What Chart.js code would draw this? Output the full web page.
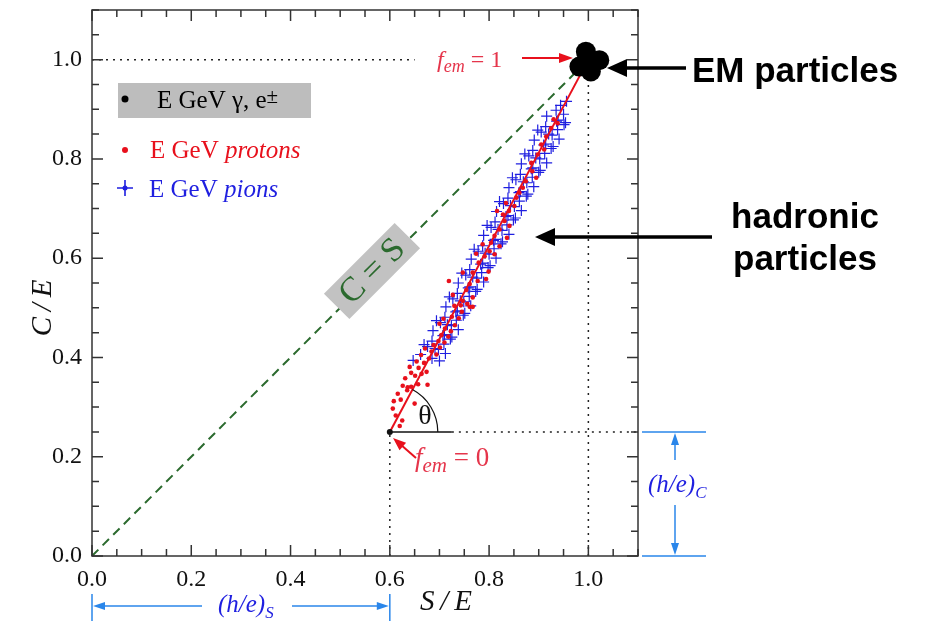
<!DOCTYPE html>
<html>
<head>
<meta charset="utf-8">
<script src="https://cdn.jsdelivr.net/npm/chart.js@4.4.1/dist/chart.umd.min.js"></script>
<style>
  html, body { margin: 0; padding: 0; background: #fff; }
  #wrap { width: 928px; height: 621px; }
</style>
</head>
<body>
<div id="wrap"><canvas id="c" width="928" height="621"></canvas></div>
<script>
// tick labels
const xTicks = [0.0, 0.2, 0.4, 0.6, 0.8, 1.0];
const yTicks = [0.0, 0.2, 0.4, 0.6, 0.8, 1.0];

// protons : S/E , C/E
const protonS = [0.606,0.625,0.612,0.608,0.650,0.616,0.622,0.636,0.676,0.635,0.626,0.643,0.657,0.631,0.651,0.643,0.664,0.674,0.658,0.640,
  0.669,0.654,0.663,0.679,0.684,0.694,0.671,0.688,0.701,0.698,0.710,0.704,0.718,0.723,0.711,0.731,0.739,0.725,0.745,0.743,
  0.767,0.756,0.730,0.761,0.747,0.767,0.727,0.754,0.761,0.777,0.719,0.794,0.747,0.767,0.799,0.779,0.791,0.774,0.801,0.811,
  0.787,0.804,0.821,0.811,0.836,0.821,0.841,0.831,0.816,0.840,0.851,0.834,0.828,0.855,0.861,0.868,0.874,0.887,0.895,0.885,
  0.898,0.911,0.905,0.915,0.925,0.938,0.930,0.708,0.700,0.620];
const protonC = [0.297,0.273,0.283,0.312,0.307,0.327,0.315,0.340,0.345,0.334,0.343,0.341,0.346,0.358,0.363,0.369,0.367,0.371,0.379,0.381,
  0.389,0.392,0.405,0.398,0.412,0.406,0.418,0.425,0.420,0.433,0.430,0.445,0.442,0.453,0.458,0.465,0.479,0.482,0.492,0.505,
  0.502,0.508,0.504,0.502,0.514,0.521,0.526,0.536,0.548,0.554,0.554,0.558,0.571,0.571,0.573,0.591,0.604,0.609,0.614,0.608,
  0.628,0.631,0.624,0.645,0.641,0.658,0.665,0.675,0.695,0.695,0.705,0.711,0.688,0.722,0.732,0.742,0.755,0.775,0.762,0.792,
  0.809,0.819,0.829,0.845,0.862,0.872,0.880,0.478,0.468,0.262];

// pions : S/E , C/E
const pionS = [0.647,
  0.662,0.685,0.700, 0.676,0.698,0.712, 0.669,0.691,0.709, 0.685,0.707,0.722, 0.687,0.710,0.725, 0.702,0.724,0.738,
  0.694,0.716,0.734, 0.711,0.733,0.748, 0.713,0.736,0.751, 0.727,0.749,0.763, 0.720,0.742,0.760, 0.736,0.758,0.773,
  0.738,0.761,0.776, 0.753,0.775,0.789, 0.745,0.767,0.785, 0.761,0.783,0.798, 0.764,0.787,0.802, 0.778,0.800,0.814,
  0.770,0.792,0.810, 0.787,0.809,0.824, 0.789,0.812,0.827, 0.804,0.826,0.840, 0.796,0.818,0.836, 0.812,0.834,0.849,
  0.815,0.838,0.853, 0.829,0.851,0.865, 0.821,0.843,0.861, 0.838,0.860,0.875, 0.840,0.863,0.878, 0.854,0.876,0.890,
  0.847,0.869,0.887, 0.863,0.885,0.900, 0.865,0.888,0.903, 0.880,0.902,0.916, 0.872,0.894,0.912, 0.888,0.910,0.925,
  0.891,0.914,0.929, 0.905,0.927,0.941, 0.898,0.920,0.938, 0.914,0.936,0.951, 0.916,0.939,0.954, 0.935,0.950, 0.944,0.956];
const pionC = [0.394,
  0.406,0.398,0.393, 0.422,0.416,0.408, 0.426,0.418,0.427, 0.433,0.444,0.437, 0.454,0.446,0.441, 0.470,0.464,0.456,
  0.474,0.466,0.475, 0.481,0.492,0.485, 0.502,0.494,0.489, 0.518,0.512,0.504, 0.522,0.514,0.523, 0.529,0.540,0.533,
  0.550,0.542,0.537, 0.566,0.560,0.552, 0.570,0.562,0.571, 0.577,0.588,0.581, 0.598,0.590,0.585, 0.614,0.608,0.600,
  0.618,0.610,0.619, 0.625,0.636,0.629, 0.646,0.638,0.633, 0.662,0.656,0.648, 0.666,0.658,0.667, 0.673,0.684,0.677,
  0.694,0.686,0.681, 0.710,0.704,0.696, 0.714,0.706,0.715, 0.721,0.732,0.725, 0.742,0.734,0.729, 0.758,0.752,0.744,
  0.762,0.754,0.763, 0.769,0.780,0.773, 0.790,0.782,0.777, 0.806,0.800,0.792, 0.810,0.802,0.811, 0.817,0.828,0.821,
  0.838,0.830,0.825, 0.854,0.848,0.840, 0.858,0.850,0.859, 0.865,0.876,0.869, 0.886,0.878,0.873, 0.898,0.890, 0.908,0.916];

// EM particles (gamma, e+-)
const emS = [0.995, 1.022, 0.982, 1.005, 1.000];
const emC = [1.016, 0.999, 0.986, 0.976, 1.000];

// f_em = 0 and f_em = 1 end points
const fem0 = [0.6, 0.25];
const fem1 = [1.0, 1.0];

const pts = (xs, ys) => xs.map((v, i) => ({ x: v, y: ys[i] }));

const RED = '#e8101c', BLUE = '#1f1fe0', LBLUE = '#2a86ea', GREEN = '#2b6a2e', PINK = '#e5354b';
const SERIF = '"Liberation Serif", "DejaVu Serif", serif';
const SANS = '"Liberation Sans", Arial, sans-serif';

function arrow(ctx, x1, y1, x2, y2, color, lw, hl, hw) {
  const a = Math.atan2(y2 - y1, x2 - x1);
  ctx.save();
  ctx.strokeStyle = color; ctx.fillStyle = color; ctx.lineWidth = lw; ctx.setLineDash([]);
  ctx.beginPath();
  ctx.moveTo(x1, y1);
  ctx.lineTo(x2 - hl * Math.cos(a) * 0.8, y2 - hl * Math.sin(a) * 0.8);
  ctx.stroke();
  ctx.beginPath();
  ctx.moveTo(x2, y2);
  ctx.lineTo(x2 - hl * Math.cos(a) + hw * Math.sin(a), y2 - hl * Math.sin(a) - hw * Math.cos(a));
  ctx.lineTo(x2 - hl * Math.cos(a) - hw * Math.sin(a), y2 - hl * Math.sin(a) + hw * Math.cos(a));
  ctx.closePath();
  ctx.fill();
  ctx.restore();
}

// draws a run of text pieces one after the other
function parts(ctx, x, y, list, color) {
  ctx.save();
  ctx.fillStyle = color; ctx.textAlign = 'left'; ctx.textBaseline = 'alphabetic';
  let cx = x;
  list.forEach(p => {
    ctx.font = p.f;
    ctx.fillText(p.t, cx, y + (p.dy || 0));
    cx += ctx.measureText(p.t).width;
  });
  ctx.restore();
}

const decor = {
  id: 'decor',
  afterDatasetsDraw(chart) {
    const ctx = chart.ctx, a = chart.chartArea;
    const xs = chart.scales.x, ys = chart.scales.y;
    const X = v => xs.getPixelForValue(v), Y = v => ys.getPixelForValue(v);

    ctx.save();
    // frame
    ctx.strokeStyle = '#333'; ctx.lineWidth = 1.5;
    ctx.strokeRect(a.left, a.top, a.right - a.left, a.bottom - a.top);
    // inward ticks every 0.05
    ctx.beginPath();
    for (let i = 0; i <= 22; i++) {
      const v = i * 0.05;
      const len = (i % 4 === 0) ? 11 : 7;
      const px = X(v), py = Y(v);
      ctx.moveTo(px, a.bottom); ctx.lineTo(px, a.bottom - len);
      ctx.moveTo(px, a.top); ctx.lineTo(px, a.top + len);
      ctx.moveTo(a.left, py); ctx.lineTo(a.left + len, py);
      ctx.moveTo(a.right, py); ctx.lineTo(a.right - len, py);
    }
    ctx.stroke();

    // theta arc
    const ox = X(fem0[0]), oy = Y(fem0[1]);
    const ang = Math.atan2(Y(fem1[1]) - oy, X(fem1[0]) - ox);
    ctx.lineWidth = 1.2; ctx.strokeStyle = '#111';
    ctx.beginPath(); ctx.arc(ox, oy, 48, ang, 0); ctx.stroke();
    ctx.fillStyle = '#111'; ctx.font = '28px ' + SERIF; ctx.textAlign = 'center';
    ctx.fillText('\u03b8', 425, 424);

    // C = S label
    ctx.save();
    ctx.translate(372, 271); ctx.rotate(-Math.PI / 4);
    ctx.fillStyle = '#c2c2c2'; ctx.fillRect(-50, -18, 100, 36);
    ctx.fillStyle = GREEN; ctx.font = '34px ' + SERIF; ctx.textAlign = 'center'; ctx.textBaseline = 'middle';
    ctx.fillText('C = S', 0, 1);
    ctx.restore();

    // legend
    ctx.fillStyle = '#bdbdbd'; ctx.fillRect(118, 83, 193, 35);
    ctx.fillStyle = '#000'; ctx.beginPath(); ctx.arc(125, 99, 3.5, 0, 2 * Math.PI); ctx.fill();
    parts(ctx, 157, 108, [{ t: 'E GeV \u03b3, e', f: '25px ' + SERIF }, { t: '\u00b1', f: '21px ' + SERIF, dy: -5 }], '#000');
    ctx.fillStyle = RED; ctx.beginPath(); ctx.arc(125, 150, 3, 0, 2 * Math.PI); ctx.fill();
    parts(ctx, 150, 158, [{ t: 'E GeV ', f: '25px ' + SERIF }, { t: 'protons', f: 'italic 25px ' + SERIF }], RED);
    ctx.strokeStyle = BLUE; ctx.lineWidth = 1.6;
    ctx.beginPath(); ctx.moveTo(117, 188); ctx.lineTo(133, 188); ctx.moveTo(125, 180); ctx.lineTo(125, 196); ctx.stroke();
    ctx.fillStyle = BLUE; ctx.beginPath(); ctx.arc(125, 188, 2.5, 0, 2 * Math.PI); ctx.fill();
    parts(ctx, 149, 197, [{ t: 'E GeV ', f: '25px ' + SERIF }, { t: 'pions', f: 'italic 25px ' + SERIF }], BLUE);

    // f_em labels
    parts(ctx, 437, 67, [{ t: 'f', f: 'italic 24px ' + SERIF }, { t: 'em', f: 'italic 18px ' + SERIF, dy: 5 }, { t: ' = 1', f: '24px ' + SERIF }], PINK);
    arrow(ctx, 522, 58, 573, 58, RED, 2, 14, 5);
    parts(ctx, 415, 466, [{ t: 'f', f: 'italic 27px ' + SERIF }, { t: 'em', f: 'italic 21px ' + SERIF, dy: 6 }, { t: ' = 0', f: '27px ' + SERIF }], PINK);
    arrow(ctx, 416, 458, 393, 438, RED, 2, 13, 5);

    // axis titles
    ctx.fillStyle = '#111'; ctx.font = 'italic 29px ' + SERIF; ctx.textAlign = 'center';
    ctx.fillText('S\u2009/\u2009E', 446, 610);
    ctx.save(); ctx.translate(51, 308); ctx.rotate(-Math.PI / 2);
    ctx.fillText('C\u2009/\u2009E', 0, 0);
    ctx.restore();
    ctx.restore();

    // (h/e)_S bracket under x axis, (h/e)_C bracket right of plot
    ctx.save();
    ctx.strokeStyle = LBLUE; ctx.lineWidth = 1.5;
    ctx.beginPath();
    ctx.moveTo(X(0), 594); ctx.lineTo(X(0), 621);
    ctx.moveTo(X(fem0[0]), 594); ctx.lineTo(X(fem0[0]), 621);
    ctx.moveTo(642, Y(fem0[1])); ctx.lineTo(706, Y(fem0[1]));
    ctx.moveTo(642, Y(0)); ctx.lineTo(706, Y(0));
    ctx.stroke();
    ctx.restore();
    arrow(ctx, 202, 606, X(0) + 1, 606, LBLUE, 1.5, 12, 4);
    arrow(ctx, 292, 606, X(fem0[0]) - 1, 606, LBLUE, 1.5, 12, 4);
    arrow(ctx, 675, 460, 675, Y(fem0[1]) + 1, LBLUE, 1.5, 12, 4);
    arrow(ctx, 675, 505, 675, Y(0) - 1, LBLUE, 1.5, 12, 4);
    parts(ctx, 218, 612, [{ t: '(h/e)', f: 'italic 25px ' + SERIF }, { t: 'S', f: 'italic 17px ' + SERIF, dy: 6 }], BLUE);
    parts(ctx, 648, 492, [{ t: '(h/e)', f: 'italic 25px ' + SERIF }, { t: 'C', f: 'italic 17px ' + SERIF, dy: 6 }], BLUE);

    // outside annotations
    arrow(ctx, 686, 68, 607, 68, '#000', 3.5, 20, 9);
    arrow(ctx, 712, 237, 535, 237, '#000', 3.5, 20, 9);
    ctx.save();
    ctx.fillStyle = '#000'; ctx.font = 'bold 35px ' + SANS;
    ctx.textAlign = 'left';
    ctx.fillText('EM particles', 692, 82);
    ctx.textAlign = 'center';
    ctx.fillText('hadronic', 805, 228);
    ctx.fillText('particles', 805, 270);
    ctx.restore();
  }
};

const dotted = { borderColor: '#222', borderWidth: 1.5, borderDash: [2, 5], pointRadius: 0, showLine: true, fill: false };

new Chart(document.getElementById('c'), {
  type: 'scatter',
  data: {
    datasets: [
      { label: 'EM', data: pts(emS, emC), pointRadius: 10, backgroundColor: '#000', borderColor: '#000', borderWidth: 0 },
      { label: 'fem0', data: [{ x: fem0[0], y: fem0[1] }], pointRadius: 3, backgroundColor: '#111', borderWidth: 0 },
      { label: 'had', data: [{ x: fem0[0], y: fem0[1] }, { x: fem1[0], y: fem1[1] }], showLine: true, borderColor: RED, borderWidth: 2, pointRadius: 0 },
      { label: 'protons', data: pts(protonS, protonC), pointRadius: 2.3, backgroundColor: RED, borderWidth: 0 },
      { label: 'pions', data: pts(pionS, pionC), pointStyle: 'cross', pointRadius: 5.5, borderColor: BLUE, borderWidth: 1.2 },
      { label: 'C=S', data: [{ x: 0, y: 0 }, { x: 0.974, y: 0.974 }], showLine: true, borderColor: GREEN, borderWidth: 2, borderDash: [9, 6], pointRadius: 0 },
      { label: 'base', data: [{ x: fem0[0], y: fem0[1] }, { x: 0.725, y: fem0[1] }], showLine: true, borderColor: '#111', borderWidth: 1.5, pointRadius: 0 },
      Object.assign({ label: 'h1', data: [{ x: 0, y: 1.0 }, { x: 0.65, y: 1.0 }] }, dotted),
      Object.assign({ label: 'v1', data: [{ x: 1.0, y: 0 }, { x: 1.0, y: 0.97 }] }, dotted),
      Object.assign({ label: 'h25', data: [{ x: 0.725, y: fem0[1] }, { x: 1.1, y: fem0[1] }] }, dotted),
      Object.assign({ label: 'v6', data: [{ x: fem0[0], y: 0 }, { x: fem0[0], y: fem0[1] }] }, dotted)
    ]
  },
  options: {
    responsive: false,
    animation: false,
    layout: { padding: { top: 9, right: 290, left: 0, bottom: 0 } },
    plugins: { legend: { display: false }, tooltip: { enabled: false } },
    scales: {
      x: {
        type: 'linear', min: 0, max: 1.1,
        afterBuildTicks: s => { s.ticks = xTicks.map(v => ({ value: v })); },
        afterFit: s => { s.height = 65; s.paddingLeft = 0; s.paddingRight = 0; },
        grid: { display: false, drawTicks: false },
        border: { display: false },
        ticks: { padding: 9, color: '#111', font: { family: SERIF, size: 24 }, callback: v => v.toFixed(1), maxRotation: 0 }
      },
      y: {
        type: 'linear', min: 0, max: 1.1,
        afterBuildTicks: s => { s.ticks = yTicks.map(v => ({ value: v })); },
        afterFit: s => { s.width = 92; s.paddingTop = 0; s.paddingBottom = 0; },
        grid: { display: false, drawTicks: false },
        border: { display: false },
        ticks: { padding: 10, color: '#111', font: { family: SERIF, size: 24 }, callback: v => v.toFixed(1) }
      }
    }
  },
  plugins: [decor]
});
</script>
</body>
</html>
